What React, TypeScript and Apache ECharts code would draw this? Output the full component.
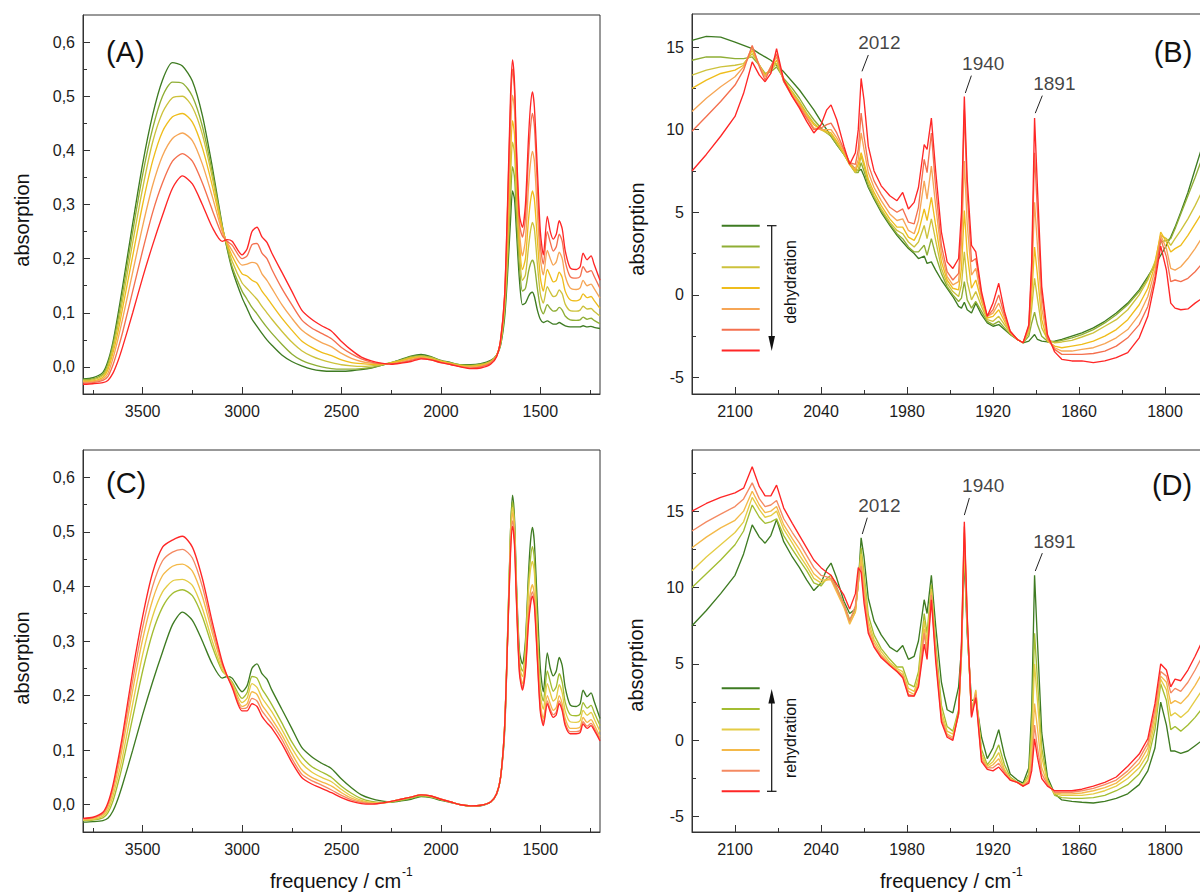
import React, { useEffect, useRef } from "react";
import * as echarts from "echarts";

const FONT = "'Liberation Sans', Arial, Helvetica, sans-serif";

// ---------- Panels A / C : wide range (cm-1) ----------
const X_WIDE = [3800, 3750, 3700, 3675, 3650, 3625, 3600, 3550, 3500, 3450, 3400, 3350, 3300, 3250, 3200, 3150, 3100,
  3075, 3050, 3000, 2975, 2950, 2925, 2900, 2875, 2850,
  2800, 2750, 2700, 2650, 2600, 2550, 2500, 2450, 2400, 2350, 2300, 2250, 2200, 2150, 2100, 2050, 2000, 1950, 1900, 1850, 1800, 1750,
  1720, 1700, 1680, 1665, 1650, 1640, 1630, 1620, 1605, 1590, 1575, 1560, 1550, 1540, 1530, 1515, 1500, 1485,
  1465, 1450, 1435, 1420, 1405, 1390, 1375, 1350, 1320, 1300, 1285, 1265, 1245, 1230, 1200];

// (A) dehydration, green -> red
const A1 = [-0.022, -0.02, -0.01, 0.01, 0.045, 0.095, 0.15, 0.265, 0.375, 0.465, 0.53, 0.562, 0.556, 0.528, 0.465, 0.37, 0.262,
  0.218, 0.18, 0.128, 0.108, 0.088, 0.075, 0.062, 0.05, 0.04,
  0.022, 0.01, 0.002, -0.004, -0.007, -0.008, -0.008, -0.007, -0.005, -0.002, 0.003, 0.008, 0.014, 0.02, 0.023, 0.019, 0.012, 0.008, 0.004, 0.004, 0.006, 0.012,
  0.022, 0.04, 0.09, 0.17, 0.27, 0.325, 0.31, 0.25, 0.16, 0.115, 0.118, 0.13, 0.136, 0.138, 0.13, 0.105, 0.088, 0.082,
  0.085, 0.082, 0.079, 0.079, 0.082, 0.079, 0.076, 0.074, 0.074, 0.074, 0.076, 0.074, 0.075, 0.073, 0.071];
const A2 = [-0.024, -0.022, -0.013, 0.005, 0.04, 0.085, 0.138, 0.25, 0.355, 0.44, 0.5, 0.526, 0.524, 0.5, 0.445, 0.36, 0.26,
  0.22, 0.185, 0.14, 0.125, 0.11, 0.098, 0.085, 0.073, 0.062,
  0.042, 0.024, 0.012, 0.005, 0.0, -0.003, -0.004, -0.004, -0.003, -0.001, 0.003, 0.008, 0.013, 0.019, 0.021, 0.018, 0.011, 0.007, 0.004, 0.003, 0.005, 0.011,
  0.022, 0.042, 0.1, 0.19, 0.31, 0.37, 0.35, 0.28, 0.185, 0.14, 0.145, 0.175, 0.19, 0.197, 0.188, 0.145, 0.11, 0.098,
  0.115, 0.108, 0.103, 0.104, 0.11, 0.105, 0.094, 0.087, 0.086, 0.087, 0.092, 0.088, 0.09, 0.086, 0.08];
const A3 = [-0.025, -0.024, -0.016, 0.0, 0.033, 0.075, 0.125, 0.23, 0.33, 0.415, 0.47, 0.497, 0.5, 0.48, 0.43, 0.35, 0.258,
  0.225, 0.195, 0.155, 0.145, 0.135, 0.125, 0.112, 0.1, 0.088,
  0.066, 0.046, 0.03, 0.02, 0.013, 0.008, 0.004, 0.002, 0.001, 0.002, 0.004, 0.008, 0.012, 0.017, 0.02, 0.017, 0.011, 0.007, 0.003, 0.002, 0.004, 0.01,
  0.022, 0.045, 0.11, 0.21, 0.35, 0.415, 0.395, 0.315, 0.21, 0.16, 0.17, 0.22, 0.25, 0.267, 0.255, 0.19, 0.135, 0.118,
  0.148, 0.138, 0.13, 0.132, 0.142, 0.135, 0.116, 0.104, 0.103, 0.105, 0.112, 0.107, 0.108, 0.103, 0.094];
const A4 = [-0.027, -0.026, -0.019, -0.005, 0.025, 0.063, 0.11, 0.205, 0.3, 0.38, 0.435, 0.462, 0.468, 0.452, 0.405, 0.335, 0.255,
  0.227, 0.205, 0.172, 0.168, 0.16, 0.155, 0.14, 0.128, 0.115,
  0.09, 0.068, 0.048, 0.036, 0.027, 0.021, 0.013, 0.008, 0.006, 0.005, 0.005, 0.007, 0.011, 0.016, 0.018, 0.015, 0.01, 0.006, 0.002, 0.001, 0.003, 0.009,
  0.021, 0.046, 0.12, 0.23, 0.39, 0.455, 0.43, 0.345, 0.23, 0.18, 0.2, 0.27, 0.305, 0.325, 0.31, 0.235, 0.165, 0.14,
  0.18, 0.168, 0.157, 0.16, 0.175, 0.165, 0.14, 0.124, 0.122, 0.125, 0.135, 0.128, 0.13, 0.123, 0.108];
const A5 = [-0.028, -0.027, -0.022, -0.012, 0.015, 0.05, 0.09, 0.175, 0.26, 0.335, 0.39, 0.422, 0.432, 0.418, 0.375, 0.315, 0.25,
  0.23, 0.215, 0.188, 0.19, 0.193, 0.19, 0.172, 0.16, 0.145,
  0.115, 0.09, 0.068, 0.055, 0.045, 0.037, 0.025, 0.016, 0.01, 0.007, 0.006, 0.006, 0.009, 0.014, 0.017, 0.014, 0.009, 0.005, 0.001, 0.0, 0.001, 0.008,
  0.02, 0.048, 0.125, 0.26, 0.43, 0.502, 0.475, 0.37, 0.25, 0.205, 0.235, 0.33, 0.375, 0.398, 0.38, 0.285, 0.2, 0.17,
  0.215, 0.2, 0.188, 0.194, 0.212, 0.2, 0.168, 0.146, 0.143, 0.146, 0.16, 0.15, 0.153, 0.145, 0.127];
const A6 = [-0.03, -0.029, -0.025, -0.018, 0.003, 0.032, 0.065, 0.14, 0.215, 0.285, 0.34, 0.38, 0.394, 0.38, 0.34, 0.29, 0.243,
  0.232, 0.225, 0.2, 0.205, 0.226, 0.228, 0.21, 0.2, 0.18,
  0.145, 0.115, 0.087, 0.072, 0.062, 0.052, 0.036, 0.024, 0.015, 0.009, 0.006, 0.006, 0.008, 0.012, 0.016, 0.013, 0.008, 0.005, 0.0, -0.002, 0.0, 0.007,
  0.02, 0.05, 0.13, 0.29, 0.48, 0.55, 0.51, 0.39, 0.265, 0.24, 0.275, 0.385, 0.44, 0.468, 0.445, 0.335, 0.225, 0.19,
  0.25, 0.23, 0.214, 0.222, 0.245, 0.232, 0.195, 0.167, 0.164, 0.167, 0.185, 0.175, 0.178, 0.168, 0.145];
const A7 = [-0.032, -0.031, -0.029, -0.025, -0.012, 0.01, 0.038, 0.1, 0.165, 0.225, 0.28, 0.33, 0.353, 0.338, 0.3, 0.258, 0.232,
  0.235, 0.232, 0.207, 0.218, 0.25, 0.258, 0.24, 0.23, 0.21,
  0.175, 0.14, 0.105, 0.088, 0.076, 0.066, 0.047, 0.031, 0.018, 0.011, 0.007, 0.005, 0.007, 0.01, 0.015, 0.013, 0.008, 0.004, 0.0, -0.003, -0.002, 0.005,
  0.019, 0.05, 0.13, 0.3, 0.5, 0.567, 0.525, 0.405, 0.28, 0.258, 0.3, 0.42, 0.48, 0.508, 0.48, 0.365, 0.25, 0.207,
  0.278, 0.25, 0.236, 0.245, 0.27, 0.255, 0.215, 0.183, 0.18, 0.185, 0.21, 0.198, 0.205, 0.19, 0.16];

// (C) rehydration, green -> red
const C1 = [-0.032, -0.031, -0.029, -0.025, -0.012, 0.01, 0.038, 0.1, 0.165, 0.225, 0.28, 0.33, 0.353, 0.338, 0.3, 0.258, 0.232,
  0.235, 0.232, 0.207, 0.218, 0.25, 0.258, 0.24, 0.23, 0.21,
  0.175, 0.14, 0.105, 0.088, 0.076, 0.066, 0.047, 0.031, 0.018, 0.011, 0.007, 0.005, 0.007, 0.01, 0.015, 0.013, 0.008, 0.004, 0.0, -0.003, -0.002, 0.005,
  0.019, 0.05, 0.13, 0.3, 0.5, 0.567, 0.525, 0.405, 0.28, 0.258, 0.3, 0.42, 0.48, 0.508, 0.48, 0.365, 0.25, 0.207,
  0.278, 0.25, 0.236, 0.245, 0.27, 0.255, 0.215, 0.183, 0.18, 0.185, 0.21, 0.198, 0.205, 0.19, 0.158];
const C2 = [-0.029, -0.028, -0.024, -0.015, 0.006, 0.038, 0.075, 0.16, 0.245, 0.315, 0.362, 0.387, 0.394, 0.383, 0.345, 0.29, 0.245,
  0.236, 0.225, 0.195, 0.205, 0.235, 0.232, 0.212, 0.198, 0.183,
  0.15, 0.115, 0.088, 0.07, 0.06, 0.05, 0.034, 0.021, 0.011, 0.006, 0.004, 0.005, 0.008, 0.012, 0.016, 0.014, 0.009, 0.005, 0.0, -0.002, -0.001, 0.005,
  0.02, 0.05, 0.14, 0.31, 0.5, 0.555, 0.515, 0.395, 0.265, 0.245, 0.29, 0.405, 0.45, 0.473, 0.45, 0.33, 0.215, 0.19,
  0.245, 0.225, 0.208, 0.216, 0.24, 0.224, 0.188, 0.165, 0.163, 0.166, 0.187, 0.177, 0.182, 0.17, 0.145];
const C3 = [-0.028, -0.027, -0.021, -0.01, 0.015, 0.05, 0.09, 0.185, 0.275, 0.345, 0.39, 0.41, 0.413, 0.402, 0.36, 0.3, 0.248,
  0.235, 0.222, 0.187, 0.195, 0.222, 0.215, 0.196, 0.183, 0.17,
  0.138, 0.104, 0.076, 0.06, 0.05, 0.042, 0.028, 0.016, 0.008, 0.004, 0.003, 0.006, 0.01, 0.014, 0.018, 0.015, 0.01, 0.005, 0.0, -0.002, -0.001, 0.005,
  0.02, 0.05, 0.14, 0.31, 0.49, 0.545, 0.505, 0.39, 0.255, 0.235, 0.28, 0.39, 0.43, 0.446, 0.425, 0.31, 0.2, 0.175,
  0.222, 0.205, 0.19, 0.196, 0.22, 0.205, 0.172, 0.152, 0.151, 0.154, 0.173, 0.164, 0.169, 0.158, 0.134];
const C4 = [-0.027, -0.025, -0.018, -0.004, 0.024, 0.063, 0.108, 0.21, 0.303, 0.375, 0.42, 0.437, 0.441, 0.428, 0.382, 0.315, 0.254,
  0.236, 0.22, 0.18, 0.185, 0.207, 0.202, 0.183, 0.17, 0.157,
  0.128, 0.094, 0.064, 0.05, 0.042, 0.034, 0.022, 0.012, 0.006, 0.003, 0.003, 0.006, 0.01, 0.014, 0.018, 0.016, 0.01, 0.005, 0.0, -0.002, -0.001, 0.005,
  0.02, 0.05, 0.14, 0.3, 0.48, 0.535, 0.495, 0.385, 0.25, 0.222, 0.265, 0.355, 0.39, 0.403, 0.385, 0.285, 0.185, 0.158,
  0.2, 0.185, 0.173, 0.178, 0.2, 0.185, 0.158, 0.14, 0.14, 0.142, 0.16, 0.151, 0.156, 0.147, 0.125];
const C5 = [-0.026, -0.024, -0.016, 0.0, 0.03, 0.072, 0.12, 0.228, 0.325, 0.4, 0.447, 0.463, 0.468, 0.452, 0.4, 0.325, 0.258,
  0.236, 0.218, 0.176, 0.178, 0.195, 0.19, 0.172, 0.16, 0.148,
  0.12, 0.085, 0.056, 0.044, 0.036, 0.027, 0.017, 0.009, 0.004, 0.002, 0.003, 0.006, 0.01, 0.014, 0.018, 0.016, 0.01, 0.005, 0.0, -0.002, -0.001, 0.005,
  0.02, 0.05, 0.14, 0.3, 0.47, 0.52, 0.485, 0.375, 0.245, 0.215, 0.25, 0.34, 0.375, 0.39, 0.372, 0.272, 0.175, 0.15,
  0.19, 0.175, 0.165, 0.17, 0.19, 0.177, 0.15, 0.134, 0.134, 0.136, 0.152, 0.144, 0.149, 0.141, 0.12];
const C6 = [-0.025, -0.023, -0.014, 0.003, 0.035, 0.08, 0.13, 0.245, 0.345, 0.425, 0.472, 0.485, 0.492, 0.472, 0.415, 0.335, 0.262,
  0.236, 0.215, 0.172, 0.172, 0.185, 0.18, 0.162, 0.15, 0.14,
  0.112, 0.078, 0.05, 0.038, 0.03, 0.022, 0.013, 0.006, 0.002, 0.001, 0.003, 0.006, 0.01, 0.014, 0.018, 0.016, 0.01, 0.005, 0.0, -0.002, -0.001, 0.005,
  0.02, 0.05, 0.14, 0.3, 0.46, 0.51, 0.475, 0.37, 0.24, 0.21, 0.245, 0.33, 0.365, 0.382, 0.365, 0.265, 0.17, 0.145,
  0.185, 0.17, 0.16, 0.165, 0.185, 0.172, 0.145, 0.13, 0.13, 0.132, 0.148, 0.14, 0.145, 0.137, 0.117];

// ---------- Panels B / D : CO region (cm-1) ----------
const X_CO = [2130, 2120, 2110, 2100, 2094, 2088, 2083, 2079, 2075, 2071,
  2066, 2060, 2055, 2050, 2045, 2040, 2036, 2033, 2029, 2024,
  2020, 2016, 2014, 2012, 2010, 2007, 2003, 1998, 1992, 1987,
  1983, 1979, 1975, 1972, 1968, 1966, 1963, 1960, 1956, 1952,
  1948, 1944, 1942, 1940, 1938, 1935, 1932, 1928, 1924, 1920,
  1916, 1912, 1908, 1903, 1899, 1895, 1893, 1891, 1889, 1886,
  1882, 1877, 1872, 1865, 1858, 1850, 1842, 1834, 1826, 1818,
  1812, 1807, 1803, 1799, 1796, 1793, 1789, 1784, 1779, 1774,
  1770];

const B1 = [15.4, 15.65, 15.6, 15.3, 15.1, 14.9, 14.6, 14.4, 14.2, 13.9,
  13.5, 12.9, 12.4, 11.8, 11.2, 10.5, 10.0, 9.6, 9.1, 8.5,
  8.0, 7.6, 7.5, 7.6, 7.2, 6.5, 5.8, 5.0, 4.2, 3.6,
  3.2, 2.8, 2.5, 2.2, 2.35, 1.9, 2.0, 1.5, 0.9, 0.4,
  -0.1, -0.7, -0.8, -0.45, -0.9, -1.1, -0.5, -1.2, -1.7, -1.9,
  -1.8, -2.1, -2.4, -2.7, -2.9, -2.8, -2.6, -2.4, -2.7, -2.8,
  -2.85, -2.8, -2.7, -2.5, -2.3, -2.0, -1.6, -1.1, -0.5, 0.3,
  1.1, 1.8, 2.4, 3.0, 3.5, 4.1, 5.0, 6.2, 7.6, 9.0,
  10.3];
const B2 = [14.2, 14.4, 14.4, 14.3, 14.3, 14.4, 13.9, 13.4, 13.5, 13.8,
  13.1, 12.5, 11.9, 11.2, 10.6, 10.1, 9.8, 9.6, 9.1, 8.5,
  7.9, 7.4, 7.4, 8.0, 7.5, 6.6, 5.9, 5.1, 4.3, 3.7,
  3.4, 2.9, 2.6, 2.6, 3.0, 2.4, 3.4, 2.4, 1.3, 0.5,
  0.0, -0.4, -0.2, 0.8, -0.3, -0.8, -0.4, -1.0, -1.6, -1.8,
  -1.6, -2.0, -2.4, -2.7, -2.9, -2.5, -1.7, -1.05, -1.8, -2.5,
  -2.8, -2.85, -2.75, -2.6, -2.4, -2.1, -1.7, -1.2, -0.6, 0.2,
  1.0, 1.9, 3.2, 3.3, 3.4, 4.0, 4.9, 6.0, 7.1, 8.3,
  9.4];
const B3 = [13.3, 13.6, 13.8, 13.9, 14.0, 14.6, 13.9, 13.3, 13.6, 14.0,
  13.0, 12.3, 11.7, 11.0, 10.4, 10.0, 9.8, 9.7, 9.2, 8.5,
  7.9, 7.4, 7.6, 8.4, 7.8, 6.8, 6.0, 5.2, 4.4, 3.9,
  3.7, 3.2, 2.9, 3.2, 4.2, 3.4, 4.6, 3.3, 1.6, 0.7,
  0.2, -0.1, 0.6, 2.6, 0.8, -0.3, 0.2, -0.7, -1.5, -1.6,
  -1.3, -1.8, -2.3, -2.7, -2.9, -2.3, -0.8, 1.0, -0.2, -2.0,
  -2.7, -2.9, -2.85, -2.75, -2.55, -2.3, -1.9, -1.5, -0.9, 0.0,
  0.9, 2.0, 3.6, 3.4, 3.0, 3.4, 3.9, 4.6, 5.4, 6.3,
  7.2];
const B4 = [12.5, 13.0, 13.4, 13.6, 13.9, 14.8, 13.9, 13.3, 13.7, 14.2,
  13.0, 12.2, 11.6, 10.9, 10.3, 10.0, 9.9, 9.8, 9.3, 8.6,
  7.9, 7.5, 7.9, 8.6, 8.0, 7.0, 6.2, 5.4, 4.6, 4.1,
  4.1, 3.5, 3.3, 3.8, 5.2, 4.5, 5.9, 4.2, 2.0, 0.9,
  0.4, 0.3, 1.6, 5.1, 2.5, 0.4, 0.9, -0.4, -1.4, -1.3,
  -0.9, -1.6, -2.3, -2.7, -2.9, -2.1, 0.0, 2.9, 1.2, -1.5,
  -2.8, -3.1, -3.2, -3.1, -3.0, -2.8, -2.5, -2.1, -1.5, -0.6,
  0.4, 1.8, 3.8, 3.2, 2.6, 2.8, 3.0, 3.6, 4.3, 5.0,
  5.8];
const B5 = [11.1, 11.9, 12.6, 13.2, 13.8, 15.0, 13.9, 13.2, 13.8, 14.4,
  12.9, 12.1, 11.5, 10.8, 10.1, 10.0, 10.0, 10.0, 9.5, 8.7,
  8.0, 7.6, 8.2, 9.8, 8.8, 7.4, 6.5, 5.7, 4.9, 4.5,
  4.6, 3.9, 3.7, 4.5, 6.9, 5.8, 7.8, 5.4, 2.5, 1.1,
  0.6, 0.8, 3.0, 8.1, 4.3, 1.2, 1.6, -0.2, -1.3, -1.1,
  -0.5, -1.4, -2.3, -2.7, -2.9, -2.0, 0.8, 5.6, 3.0, -0.8,
  -2.7, -3.2, -3.4, -3.4, -3.3, -3.2, -2.95, -2.6, -2.1, -1.2,
  -0.1, 1.5, 3.6, 2.8, 1.6, 1.5, 1.7, 2.2, 2.8, 3.5,
  4.2];
const B6 = [9.9, 10.8, 11.7, 12.7, 13.6, 15.1, 13.8, 13.0, 13.8, 14.6,
  12.9, 12.0, 11.4, 10.7, 10.0, 10.1, 10.3, 10.4, 9.8, 8.8,
  8.0, 7.9, 8.8, 11.0, 9.6, 7.9, 6.9, 6.1, 5.3, 5.0,
  5.2, 4.4, 4.3, 5.3, 8.2, 7.4, 9.8, 6.5, 3.0, 1.4,
  0.9, 1.3, 4.2, 11.2, 6.2, 2.0, 2.2, 0.0, -1.3, -0.9,
  0.0, -1.2, -2.2, -2.7, -2.9, -1.9, 1.5, 8.6, 5.0, 0.0,
  -2.6, -3.3, -3.6, -3.6, -3.6, -3.55, -3.4, -3.1, -2.6, -1.8,
  -0.7, 1.1, 3.4, 2.3, 0.8, 0.9, 0.8, 1.0, 1.4, 1.9,
  2.4];
const B7 = [7.5, 8.5, 9.6, 10.8, 12.2, 14.1, 13.3, 12.9, 13.4, 14.9,
  13.0, 12.0, 11.3, 10.5, 9.8, 10.3, 11.2, 11.5, 10.6, 9.0,
  7.9, 8.6, 10.0, 13.1, 11.8, 9.0, 7.5, 6.6, 6.0, 5.7,
  6.2, 5.2, 5.6, 6.5, 9.1, 8.8, 10.7, 7.5, 3.8, 2.0,
  1.6, 2.2, 5.0, 12.0, 7.0, 3.0, 2.6, 0.2, -1.3, -0.5,
  0.7, -1.0, -2.2, -2.7, -2.9, -1.8, 2.0, 10.7, 6.5, 0.5,
  -2.4, -3.45, -3.9, -4.0, -4.0, -4.1, -4.0, -3.8, -3.5, -2.6,
  -1.3, 0.8, 2.95, 1.5, -0.5, -0.8, -0.9, -0.85, -0.5, -0.2,
  0.1];

const D1 = [7.5, 8.5, 9.6, 10.8, 12.2, 14.1, 13.3, 12.9, 13.4, 14.45,
  13.0, 12.0, 11.3, 10.5, 9.8, 10.3, 11.2, 11.6, 10.6, 9.1,
  8.3, 8.6, 10.2, 13.25, 12.0, 9.3, 7.8, 6.9, 6.1, 5.8,
  6.2, 5.3, 5.5, 6.5, 9.2, 8.3, 10.8, 7.5, 3.8, 2.0,
  1.8, 3.5, 6.0, 12.0, 7.0, 2.6, 2.7, 0.2, -1.2, -0.5,
  0.7, -1.0, -2.2, -2.6, -2.8, -1.8, 2.0, 10.8, 6.5, 0.5,
  -2.4, -3.5, -3.9, -4.0, -4.05, -4.1, -4.0, -3.8, -3.5, -2.9,
  -2.0, -0.5, 2.5, 1.0, -0.7, -0.7, -0.85, -0.7, -0.35, 0.0,
  0.3];
const D2 = [10.0, 10.9, 11.8, 12.8, 13.7, 15.4, 14.6, 14.2, 14.3, 14.5,
  13.4, 12.5, 11.8, 11.1, 10.3, 10.1, 10.6, 10.8, 10.0, 8.9,
  7.9, 8.5, 10.4, 12.6, 11.0, 8.2, 6.9, 6.0, 5.3, 4.8,
  4.8, 3.7, 3.5, 4.5, 8.3, 7.0, 10.2, 6.4, 2.3, 0.9,
  0.6, 2.0, 5.5, 12.6, 7.3, 2.0, 3.0, -0.6, -1.6, -1.1,
  -0.3, -1.6, -2.4, -2.75, -2.9, -2.2, 0.8, 7.0, 4.0, -0.5,
  -2.6, -3.6, -3.75, -3.8, -3.8, -3.75, -3.6, -3.3, -2.9, -2.2,
  -1.3, 0.7, 3.7, 2.6, 0.7, 0.9, 0.6, 1.0, 1.5, 2.1,
  2.6];
const D3 = [11.1, 12.0, 12.8, 13.6, 14.3, 15.9, 15.1, 14.6, 14.7, 15.0,
  13.8, 12.9, 12.1, 11.4, 10.6, 10.3, 10.5, 10.6, 9.8, 8.8,
  7.7, 8.4, 10.3, 12.2, 10.5, 7.8, 6.6, 5.8, 5.1, 4.7,
  4.5, 3.4, 3.2, 4.1, 7.8, 6.5, 9.9, 6.0, 1.9, 0.6,
  0.4, 1.8, 5.6, 13.2, 7.6, 1.8, 3.3, -0.9, -1.7, -1.4,
  -0.8, -1.9, -2.5, -2.75, -2.9, -2.4, 0.0, 5.0, 2.6, -1.1,
  -2.7, -3.5, -3.6, -3.6, -3.6, -3.5, -3.3, -3.0, -2.5, -1.8,
  -0.9, 1.2, 4.0, 3.3, 1.6, 1.8, 1.5, 1.9, 2.6, 3.3,
  3.9];
const D4 = [12.6, 13.3, 13.9, 14.4, 15.0, 16.3, 15.4, 14.9, 15.0, 15.3,
  14.1, 13.2, 12.5, 11.7, 10.9, 10.5, 10.5, 10.5, 9.7, 8.7,
  7.6, 8.4, 10.3, 11.8, 10.0, 7.5, 6.4, 5.6, 5.0, 4.6,
  4.3, 3.2, 3.0, 3.8, 7.3, 6.0, 9.7, 5.7, 1.6, 0.4,
  0.2, 1.7, 5.8, 13.6, 7.8, 1.7, 3.2, -1.1, -1.8, -1.6,
  -1.2, -2.0, -2.5, -2.75, -3.0, -2.6, -1.0, 2.4, 0.8, -1.8,
  -2.8, -3.45, -3.5, -3.5, -3.45, -3.3, -3.1, -2.8, -2.2, -1.5,
  -0.5, 1.6, 4.2, 3.8, 2.4, 2.6, 2.4, 2.9, 3.6, 4.4,
  5.1];
const D5 = [13.7, 14.3, 14.8, 15.3, 15.8, 16.85, 15.8, 15.3, 15.4, 15.7,
  14.5, 13.6, 12.9, 12.1, 11.3, 10.8, 10.7, 10.6, 9.9, 8.9,
  7.8, 8.8, 10.6, 11.4, 9.5, 7.2, 6.2, 5.5, 4.9, 4.5,
  4.2, 3.0, 2.9, 3.6, 7.0, 5.6, 9.5, 5.5, 1.4, 0.3,
  0.1, 1.7, 6.0, 14.0, 8.0, 1.6, 3.0, -1.3, -1.8, -1.8,
  -1.5, -2.1, -2.6, -2.75, -3.0, -2.7, -1.6, 1.0, -0.5, -2.2,
  -2.9, -3.4, -3.4, -3.4, -3.3, -3.15, -2.9, -2.6, -2.0, -1.2,
  -0.2, 2.0, 4.5, 4.2, 3.1, 3.4, 3.2, 3.8, 4.6, 5.5,
  6.3];
const D6 = [15.0, 15.5, 15.9, 16.2, 16.5, 17.9, 16.6, 16.0, 16.0, 16.7,
  15.2, 14.2, 13.4, 12.6, 11.8, 11.3, 11.0, 10.8, 10.2, 9.5,
  8.6, 9.6, 11.3, 11.0, 9.0, 7.0, 6.1, 5.4, 4.9, 4.5,
  4.1, 2.9, 2.9, 3.5, 6.3, 5.3, 9.2, 5.2, 1.2, 0.2,
  0.0, 1.8, 6.3, 14.3, 8.2, 1.5, 2.8, -1.4, -1.9, -2.0,
  -1.75, -2.2, -2.6, -2.75, -3.0, -2.8, -2.0, 0.1, -1.1, -2.5,
  -3.0, -3.3, -3.3, -3.3, -3.2, -3.0, -2.75, -2.4, -1.7, -0.9,
  0.1, 2.4, 5.0, 4.6, 3.5, 4.0, 3.9, 4.6, 5.5, 6.5,
  7.3];

// ---------- colours ----------
const COLORS_7 = ["#3e7b22", "#8fae35", "#cdc23c", "#efbd1c", "#f6a656", "#f4704f", "#ff2626"];
const COLORS_6 = ["#3e7b22", "#a3bd32", "#e4cc45", "#f4b949", "#f48a62", "#ff2626"];

// ---------- ticks ----------
const WIDE_X_MAJOR = [1500, 2000, 2500, 3000, 3500];
const WIDE_X_MINOR = [1250, 1750, 2250, 2750, 3250, 3750];
const CO_X_MAJOR = [1800, 1860, 1920, 1980, 2040, 2100];
const CO_X_MINOR = [1830, 1890, 1950, 2010, 2070];
const ABS_Y_MAJOR = [0, 0.1, 0.2, 0.3, 0.4, 0.5, 0.6];
const ABS_Y_MINOR = [0.05, 0.15, 0.25, 0.35, 0.45, 0.55];
const CO_Y_MAJOR = [-5, 0, 5, 10, 15];
const CO_Y_MINOR_B = [-2.5, 2.5, 7.5, 12.5];
const CO_Y_MINOR_D = [-2.5, 2.5, 7.5, 12.5, 17.5];

// ---------- peak annotations (data coordinates) ----------
const PEAK_NAMES = ["2012", "1940", "1891"];
const PEAK_TEXT_B = [[1999.3, 15.25], [1926.8, 14.03], [1877.2, 12.82]];
const PEAK_LINE_B = [[[2007.0, 14.52], [2011.4, 13.53]], [[1935.1, 13.27], [1939.3, 12.22]], [[1885.6, 12.06], [1890.5, 11.0]]];
const PEAK_TEXT_D = [[1999.3, 15.4], [1926.8, 16.7], [1877.2, 13.04]];
const PEAK_LINE_D = [[[2007.7, 14.57], [2011.2, 13.5]], [[1936.5, 15.86], [1940.0, 14.74]], [[1885.6, 12.25], [1890.5, 11.08]]];

const zip = (xs: number[], ys: number[]) => xs.map((x, i) => [x, ys[i]]);

const INK = "#1c1c1c";
const AXIS = "#333";

const fmtComma = (v: number) => v.toFixed(1).replace(".", ",");
const fmtInt = (v: number) => String(Math.round(v));

function mainX(g: number, min: number, max: number, major: number[]) {
  return {
    type: "value", gridIndex: g, min, max, inverse: true, position: "bottom",
    axisLine: { show: true, onZero: false, lineStyle: { color: AXIS, width: 1 } },
    axisTick: { show: true, inside: true, length: 7, customValues: major, lineStyle: { color: AXIS, width: 1 } },
    axisLabel: { show: true, customValues: major, margin: 9, fontSize: 16, color: INK, fontFamily: FONT, formatter: fmtInt },
    splitLine: { show: false },
  };
}
function minorX(g: number, min: number, max: number, minor: number[]) {
  return {
    type: "value", gridIndex: g, min, max, inverse: true, position: "bottom",
    axisLine: { show: false, onZero: false },
    axisTick: { show: true, inside: true, length: 4, customValues: minor, lineStyle: { color: AXIS, width: 1 } },
    axisLabel: { show: false },
    splitLine: { show: false },
  };
}
function mainY(g: number, min: number, max: number, major: number[], fmt: (v: number) => string) {
  return {
    type: "value", gridIndex: g, min, max, position: "left",
    axisLine: { show: true, onZero: false, lineStyle: { color: AXIS, width: 1 } },
    axisTick: { show: true, inside: true, length: 7, customValues: major, lineStyle: { color: AXIS, width: 1 } },
    axisLabel: { show: true, customValues: major, margin: 8, fontSize: 16, color: INK, fontFamily: FONT, formatter: fmt },
    splitLine: { show: false },
  };
}
function minorY(g: number, min: number, max: number, minor: number[]) {
  return {
    type: "value", gridIndex: g, min, max, position: "left",
    axisLine: { show: false, onZero: false },
    axisTick: { show: true, inside: true, length: 4, customValues: minor, lineStyle: { color: AXIS, width: 1 } },
    axisLabel: { show: false },
    splitLine: { show: false },
  };
}

function curves(g: number, xs: number[], sets: number[][], colors: string[], prefix: string, smooth: number) {
  return sets.map((ys, i) => ({
    name: prefix + (i + 1),
    type: "line",
    xAxisIndex: g,
    yAxisIndex: g,
    data: zip(xs, ys),
    symbol: "none",
    showSymbol: false,
    silent: true,
    smooth,
    lineStyle: { width: 1.35, color: colors[i] },
    itemStyle: { color: colors[i] },
    emphasis: { disabled: true },
    z: 2,
  }));
}

function peakSeries(g: number, texts: number[][], lines: number[][][]) {
  return {
    type: "scatter",
    xAxisIndex: g,
    yAxisIndex: g,
    silent: true,
    symbolSize: 1,
    itemStyle: { color: "rgba(0,0,0,0)" },
    data: texts.map((t, i) => [t[0], t[1], PEAK_NAMES[i]]),
    label: {
      show: true, position: "inside", formatter: (p: any) => p.value[2],
      fontSize: 19, color: "#111", fontFamily: FONT,
    },
    markLine: {
      silent: true,
      symbol: ["none", "none"],
      label: { show: false },
      lineStyle: { color: "#222", width: 1, type: "solid" },
      data: lines.map((l) => [{ coord: l[0] }, { coord: l[1] }]),
    },
    z: 5,
  };
}

function textEl(text: string, x: number, y: number, size: number, align = "center", rot = 0) {
  return {
    type: "text", x, y, rotation: rot, silent: true, z: 10,
    style: { text, fontSize: size, fontFamily: FONT, fill: "#111", textAlign: align, textVerticalAlign: "middle" },
  };
}

function legendKey(x0: number, y0: number, step: number, colors: string[]) {
  return colors.map((c, i) => ({
    type: "line", silent: true, z: 10,
    shape: { x1: x0, y1: y0 + i * step, x2: x0 + 38, y2: y0 + i * step },
    style: { stroke: c, lineWidth: 2 },
  }));
}

export default function App() {
  const ref = useRef<HTMLDivElement>(null);
  useEffect(() => {
    if (!ref.current) return;
    const chart = echarts.init(ref.current, undefined, { renderer: "svg" });

    const grids = [
      { left: 83, top: 15, width: 517, height: 379 },
      { left: 692, top: 14, width: 516, height: 380 },
      { left: 83, top: 450, width: 517, height: 382 },
      { left: 692, top: 450, width: 516, height: 382 },
    ].map((g) => ({ ...g, show: true, borderColor: AXIS, borderWidth: 1, backgroundColor: "transparent" }));

    const arrowDown = [
      { type: "line", silent: true, z: 10, shape: { x1: 771.7, y1: 225.7, x2: 771.7, y2: 340 }, style: { stroke: "#111", lineWidth: 1.2 } },
      { type: "line", silent: true, z: 10, shape: { x1: 767, y1: 225.7, x2: 776.5, y2: 225.7 }, style: { stroke: "#111", lineWidth: 1.2 } },
      { type: "polygon", silent: true, z: 10, shape: { points: [[768.4, 336], [775, 336], [771.7, 351]] }, style: { fill: "#111" } },
    ];
    const arrowUp = [
      { type: "line", silent: true, z: 10, shape: { x1: 771.7, y1: 791.3, x2: 771.7, y2: 700 }, style: { stroke: "#111", lineWidth: 1.2 } },
      { type: "line", silent: true, z: 10, shape: { x1: 767, y1: 791.3, x2: 776.5, y2: 791.3 }, style: { stroke: "#111", lineWidth: 1.2 } },
      { type: "polygon", silent: true, z: 10, shape: { points: [[768.4, 703.5], [775, 703.5], [771.7, 689]] }, style: { fill: "#111" } },
    ];

    const graphic = [
      textEl("(A)", 106, 52, 29, "left"),
      textEl("(C)", 106, 483, 29, "left"),
      textEl("(B)", 1173, 52, 29, "center"),
      textEl("(D)", 1172, 485, 29, "center"),
      textEl("absorption", 22, 220, 20, "center", Math.PI / 2),
      textEl("absorption", 22, 658, 20, "center", Math.PI / 2),
      textEl("absorption", 637, 229, 20, "center", Math.PI / 2),
      textEl("absorption", 636, 665, 20, "center", Math.PI / 2),
      textEl("frequency / cm", 270, 881, 20, "left"),
      textEl("-1", 402, 872, 12, "left"),
      textEl("frequency / cm", 880, 881, 20, "left"),
      textEl("-1", 1012, 872, 12, "left"),
      textEl("dehydration", 790, 282, 16, "center", Math.PI / 2),
      textEl("rehydration", 790, 738, 16, "center", Math.PI / 2),
      ...legendKey(721.7, 225.7, 20.8, COLORS_7),
      ...legendKey(721.7, 688.3, 20.6, COLORS_6),
      ...arrowDown,
      ...arrowUp,
    ];

    const option: any = {
      animation: false,
      backgroundColor: "#ffffff",
      textStyle: { fontFamily: FONT },
      grid: grids,
      xAxis: [
        mainX(0, 1200, 3800, WIDE_X_MAJOR),
        mainX(1, 1770, 2130, CO_X_MAJOR),
        mainX(2, 1200, 3800, WIDE_X_MAJOR),
        mainX(3, 1770, 2130, CO_X_MAJOR),
        minorX(0, 1200, 3800, WIDE_X_MINOR),
        minorX(1, 1770, 2130, CO_X_MINOR),
        minorX(2, 1200, 3800, WIDE_X_MINOR),
        minorX(3, 1770, 2130, CO_X_MINOR),
      ],
      yAxis: [
        mainY(0, -0.05, 0.65, ABS_Y_MAJOR, fmtComma),
        mainY(1, -6, 17, CO_Y_MAJOR, fmtInt),
        mainY(2, -0.05, 0.65, ABS_Y_MAJOR, fmtComma),
        mainY(3, -6, 19, CO_Y_MAJOR, fmtInt),
        minorY(0, -0.05, 0.65, ABS_Y_MINOR),
        minorY(1, -6, 17, CO_Y_MINOR_B),
        minorY(2, -0.05, 0.65, ABS_Y_MINOR),
        minorY(3, -6, 19, CO_Y_MINOR_D),
      ],
      series: [
        ...curves(0, X_WIDE, [A1, A2, A3, A4, A5, A6, A7], COLORS_7, "A", 0.25),
        ...curves(1, X_CO, [B1, B2, B3, B4, B5, B6, B7], COLORS_7, "B", 0),
        ...curves(2, X_WIDE, [C1, C2, C3, C4, C5, C6], COLORS_6, "C", 0.25),
        ...curves(3, X_CO, [D1, D2, D3, D4, D5, D6], COLORS_6, "D", 0),
        peakSeries(1, PEAK_TEXT_B, PEAK_LINE_B),
        peakSeries(3, PEAK_TEXT_D, PEAK_LINE_D),
      ],
      graphic,
    };
    chart.setOption(option);
    return () => chart.dispose();
  }, []);

  return (
    <div style={{ position: "absolute", left: 0, top: 0, width: 1200, height: 892, overflow: "hidden", background: "#fff" }}>
      <div ref={ref} style={{ width: 1215, height: 892 }} />
    </div>
  );
}
